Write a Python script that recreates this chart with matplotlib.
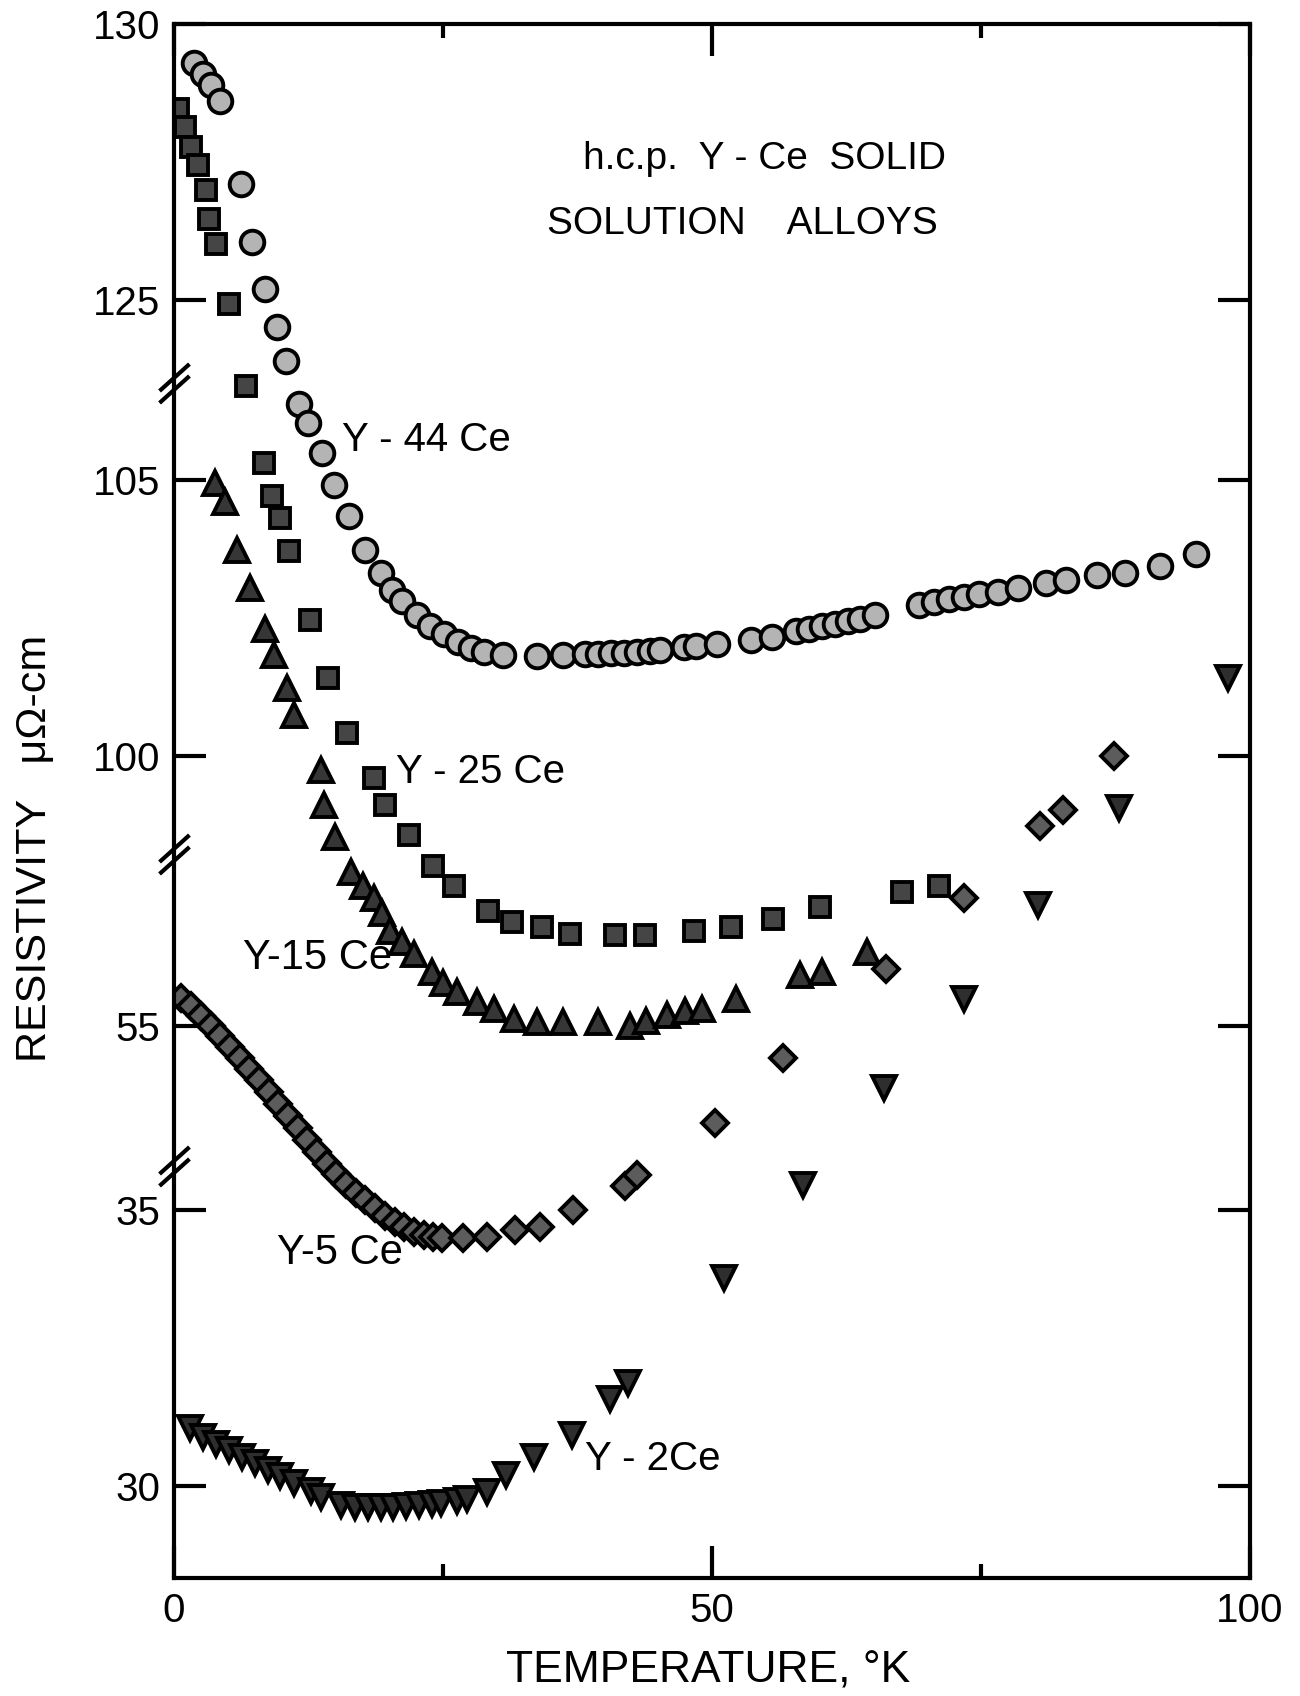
import numpy as np
import matplotlib
matplotlib.use('Agg')
import matplotlib.pyplot as plt
from matplotlib.path import Path
from matplotlib.ticker import NullLocator

plt.rcParams['font.family'] = ['Liberation Sans', 'DejaVu Sans']

# data: temperature (K), resistivity as read on the broken axis (uOhm-cm)
t_44 = [1.9, 2.7, 3.4, 4.3, 6.2, 7.3, 8.5, 9.6, 10.4,
        11.6, 12.5, 13.8, 14.9, 16.3, 17.8, 19.2, 20.3, 21.2, 22.6, 23.8, 25.1, 26.4, 27.6, 28.8,
        30.6, 33.7, 36.2, 38.2, 39.4, 40.6, 41.8, 43.0, 44.2, 45.2, 47.4, 48.5, 50.5, 53.6, 55.6,
        57.8, 59.0, 60.2, 61.4, 62.6, 63.8, 65.2, 69.2, 70.6, 72.0, 73.4, 74.8, 76.6, 78.4,
        81.0, 82.9, 85.8, 88.4, 91.6, 95.0]
r_44 = [129.3, 129.1, 128.9, 128.6, 127.1, 126.05, 125.2, 124.5, 123.9,
        106.37, 106.02, 105.49, 104.90, 104.35, 103.72, 103.3, 103.0, 102.8, 102.55, 102.35, 102.2, 102.05, 101.95, 101.88,
        101.82, 101.8, 101.82, 101.84, 101.84, 101.85, 101.86, 101.88, 101.9, 101.92, 101.96, 101.98, 102.02, 102.1, 102.15,
        102.26, 102.3, 102.34, 102.38, 102.43, 102.48, 102.55, 102.72, 102.78, 102.83, 102.87, 102.92, 102.97, 103.03,
        103.12, 103.19, 103.28, 103.3, 103.43, 103.66]

t_25 = [0.4, 1.0, 1.6, 2.2, 3.0, 3.3, 3.9, 5.1,
        6.7, 8.4, 9.1, 9.9, 10.7, 12.6, 14.3, 16.1, 18.6, 19.6, 21.8,
        24.1, 26.0, 29.2, 31.4, 34.2, 36.8, 41.0, 43.8, 48.3, 51.8, 55.7, 60.0, 67.7, 71.1]
r_25 = [128.46, 128.14, 127.78, 127.45, 126.99, 126.47, 126.01, 124.93,
        106.7, 105.3, 104.7, 104.3, 103.7, 102.45, 101.4, 100.4, 99.6, 99.1, 98.56,
        57.9, 57.55, 57.1, 56.9, 56.8, 56.67, 56.65, 56.65, 56.73, 56.8, 56.94, 57.16, 57.43, 57.55]

t_15 = [3.8, 4.7, 5.9, 7.1, 8.5, 9.3, 10.5, 11.2, 13.7, 13.9,
        15.0, 16.5, 17.6, 18.6, 19.3, 20.1, 21.2, 22.3, 24.0, 25.0,
        26.3, 28.2, 29.7, 31.6, 33.7, 36.2, 39.4, 42.4, 43.9, 45.8,
        47.5, 49.1, 52.2, 58.2, 60.2, 64.4]
r_15 = [104.94, 104.6, 103.72, 103.03, 102.29, 101.82, 101.23, 100.74, 99.74, 99.11,
        98.52, 57.79, 57.55, 57.32, 57.06, 56.73, 56.53, 56.32, 55.98, 55.79,
        55.63, 55.45, 55.32, 55.14, 55.08, 55.08, 55.08, 55.0, 55.10, 55.20,
        55.28, 55.32, 55.49, 55.94, 55.98, 56.34]

t_5 = [0.7, 1.6, 2.5, 3.4, 4.3, 5.2, 6.1, 7.0, 7.9, 8.8, 9.7, 10.6, 11.5, 12.4, 13.3, 14.2,
       15.1, 16.0, 16.9, 17.8, 18.7, 19.6, 20.5, 21.4, 22.3, 23.2, 24.1,
       24.9, 26.9, 29.1, 31.7, 34.0, 37.1, 41.9, 43.0,
       50.3, 56.6, 66.2, 73.4, 80.5, 82.6, 87.4]
r_5 = [55.51, 55.36, 55.18, 55.0, 54.83, 54.63, 54.43, 54.22, 54.02, 53.81, 53.59, 53.38, 53.16, 52.94, 52.73, 52.51,
       35.65, 35.47, 35.31, 35.18, 35.04, 34.90, 34.78, 34.69, 34.61, 34.55, 34.51,
       34.49, 34.49, 34.51, 34.63, 34.69, 35.0, 35.43, 35.63,
       53.24, 54.42, 56.04, 57.32, 98.72, 99.01, 100.0]

t_2 = [1.5, 2.7, 3.9, 5.1, 6.3, 7.5, 8.7, 9.9, 11.2, 12.7, 13.7, 15.5, 16.8, 18.0, 19.2, 20.4, 21.6, 22.8, 24.0,
       24.8, 26.3, 27.2, 29.1, 30.9, 33.5, 37.0, 40.5, 42.2,
       51.1, 58.5, 66.0, 73.4, 80.3, 87.8, 98.0]
r_2 = [31.04, 30.88, 30.76, 30.65, 30.53, 30.41, 30.29, 30.18, 30.06, 29.90, 29.80, 29.65, 29.61, 29.61, 29.61, 29.61, 29.63, 29.65, 29.67,
       29.68, 29.72, 29.76, 29.88, 30.2, 30.53, 30.92, 31.57, 31.86,
       33.76, 35.45, 53.89, 55.49, 57.20, 99.05, 101.41]

y_ticks = [30, 35, 55, 100, 105, 125, 130]

# broken y axis: height where each piece is cut, and value offset of each piece
cut_h = [-5.0, 5.8, 11.45, 20.0, 30.0]
off_v = [30.0, 46.67, 86.76, 103.5]
xp, fp = [], []
for i, off in enumerate(off_v):
    xp += [cut_h[i] + off, cut_h[i + 1] + off]
    fp += [cut_h[i] + (1e-6 if i else 0.0), cut_h[i + 1]]
xp = np.array(xp)
fp = np.array(fp)


def fwd(v):
    return np.interp(v, xp, fp)


def inv(h):
    return np.interp(h, fp, xp)


fig = plt.figure(figsize=(13, 16.96), dpi=100)
ax = fig.add_axes([0.1338, 0.0696, 0.8277, 0.9162])
ax.set_yscale('function', functions=(fwd, inv))

mk = dict(linestyle='none', markeredgecolor='black', markeredgewidth=2.8)
ax.plot(t_44, r_44, marker='o', markersize=17, markerfacecolor='#b4b4b4', **mk)
ax.plot(t_25, r_25, marker='s', markersize=15, markerfacecolor='#454545', **mk)
ax.plot(t_15, r_15, marker='^', markersize=17, markerfacecolor='#363636', **mk)
ax.plot(t_5, r_5, marker='D', markersize=13, markerfacecolor='#5c5c5c', **mk)
ax.plot(t_2, r_2, marker='v', markersize=17, markerfacecolor='#2e2e2e', **mk)

ax.set_xlim(0, 100)
ax.set_ylim(28.33, 130.0)
ax.set_xticks([0, 50, 100])
ax.set_xticklabels(['0', '50', '100'])
ax.set_xticks([25, 75], minor=True)
ax.set_yticks(y_ticks)
ax.set_yticklabels([str(v) for v in y_ticks])
ax.yaxis.set_minor_locator(NullLocator())
ax.tick_params(which='major', direction='in', length=23, width=3, labelsize=29,
               top=True, right=True, pad=10)
ax.tick_params(axis='x', which='minor', direction='in', length=10, width=3, top=True)
for s in ax.spines.values():
    s.set_linewidth(3)

# break marks on the left axis
brk = Path([(-15, -19.5), (15, 7.5), (-15, -7.5), (15, 19.5)],
           [Path.MOVETO, Path.LINETO, Path.MOVETO, Path.LINETO])
ax.plot([0, 0, 0], [35.8, 98.21, 123.5], linestyle='none', marker=brk, markersize=28,
        markerfacecolor='none', markeredgecolor='black', markeredgewidth=3,
        clip_on=False, zorder=6)

# text
ax.text(54.9, 127.56, 'h.c.p.  Y - Ce  SOLID', ha='center', va='center', fontsize=28)
ax.text(52.8, 126.38, 'SOLUTION    ALLOYS', ha='center', va='center', fontsize=28)
ax.text(15.6, 105.72, 'Y - 44 Ce', ha='left', va='center', fontsize=29)
ax.text(20.6, 99.70, 'Y - 25 Ce', ha='left', va='center', fontsize=29)
ax.text(6.4, 56.24, 'Y-15 Ce', ha='left', va='center', fontsize=30)
ax.text(9.6, 34.22, 'Y-5 Ce', ha='left', va='center', fontsize=30)
ax.text(38.2, 30.49, 'Y - 2Ce', ha='left', va='center', fontsize=29)

fig.text(0.027, 0.50, 'RESISTIVITY   μΩ-cm', rotation=90, ha='center', va='center', fontsize=31)
fig.text(0.545, 0.0147, 'TEMPERATURE, °K', ha='center', va='center', fontsize=32)

fig.savefig('out.png', dpi=100)
